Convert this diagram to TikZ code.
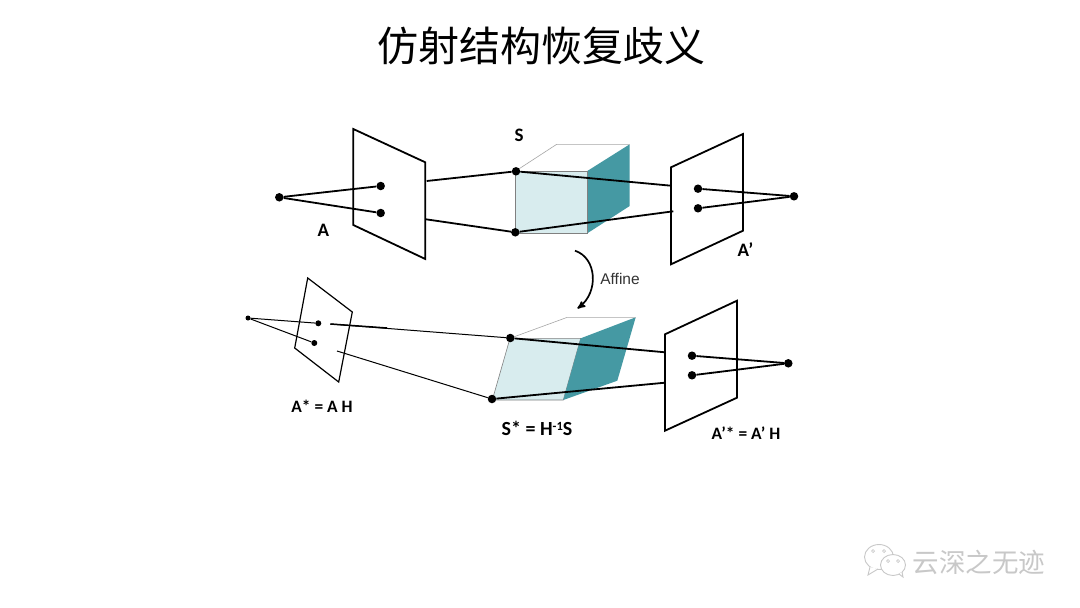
\documentclass[tikz,border=0pt]{standalone}
\usepackage{fontspec}
\usepackage{tikz}
\usetikzlibrary{shapes,arrows,positioning,calc}
\setmainfont{Carlito}
\newfontfamily\cjk{Noto Sans CJK SC}
\newfontfamily\arial{Liberation Sans}
\definecolor{cubefront}{HTML}{D8ECEE}
\definecolor{cubeside}{HTML}{4599A3}
\definecolor{markgray}{HTML}{C8C8C8}
\tikzstyle{pointdot} = [circle, fill=black, inner sep=0pt, minimum size=8.5pt]
\tikzstyle{smalldot} = [circle, fill=black, inner sep=0pt, minimum size=6pt]
\tikzstyle{label} = [font=\bfseries\fontsize{17.4}{19}\selectfont, inner sep=0pt]
\tikzstyle{biglabel} = [font=\bfseries\fontsize{19}{21}\selectfont, inner sep=0pt]
\tikzstyle{plane} = [draw, line width=1.8pt, line join=miter]
\tikzstyle{ray} = [draw, line width=1.8pt]
\tikzstyle{thinplane} = [draw, line width=1.2pt]
\tikzstyle{thinray} = [draw, line width=1pt]
\tikzstyle{edge} = [draw=black!50, line width=0.6pt]
\tikzstyle{bubble} = [draw=markgray, ellipse, fill=white, line width=0.9pt, inner sep=0pt]

\begin{document}
\begin{tikzpicture}[x=1pt, y=-1pt, >=stealth']
    \useasboundingbox[fill=white] (0,0) rectangle (1080,608);
    \node[font=\cjk\fontsize{41}{45}\selectfont, inner sep=0pt] (title) at (541,45.5) {仿射结构恢复歧义};

    % 上方两个相机的像平面
    \coordinate (p1) at (353.3,129);
    \coordinate (p2) at (425.3,162.3);
    \coordinate (p3) at (425.3,259);
    \coordinate (p4) at (353.3,225);
    \draw[plane] (p1) -- (p2) -- (p3) -- (p4) -- cycle;
    \coordinate (q1) at (671,167.3);
    \coordinate (q2) at (743,134);
    \coordinate (q3) at (743,230.7);
    \coordinate (q4) at (671,264.3);
    \draw[plane] (q1) -- (q2) -- (q3) -- (q4) -- cycle;

    % 立方体
    \coordinate (c1) at (515.7,171);
    \coordinate (c2) at (587.3,171);
    \coordinate (c3) at (587.3,233.3);
    \coordinate (c4) at (515.7,233.3);
    \coordinate (c5) at (556.7,144.3);
    \coordinate (c6) at (629.7,144.3);
    \coordinate (c7) at (629.7,206);
    \draw[edge, fill=cubefront] (c1) -- (c2) -- (c3) -- (c4) -- cycle;
    \fill[cubeside] (c2) -- (c6) -- (c7) -- (c3) -- cycle;
    \draw[edge] (c2) -- (c3);
    \draw[edge, black!35] (c1) -- (c5) -- (c6);

    \node[pointdot] (camA) at (279.3,197.3) {};
    \node[pointdot] (a1) at (380.7,186) {};
    \node[pointdot] (a2) at (380.7,213) {};
    \node[pointdot] (s1) at (516,171.3) {};
    \node[pointdot] (s2) at (515.3,232.3) {};
    \node[pointdot] (b1) at (698,188.7) {};
    \node[pointdot] (b2) at (698,208.3) {};
    \node[pointdot] (camB) at (794,196.3) {};
    \coordinate (a1out) at (426.7,181);
    \coordinate (a2out) at (426,219.3);
    \coordinate (b1in) at (671,185.7);
    \coordinate (b2in) at (673.3,211.3);

    % 光线
    \draw[ray] (camA) -- (a1);
    \draw[ray] (camA) -- (a2);
    \draw[ray] (a1out) -- (s1);
    \draw[ray] (a2out) -- (s2);
    \draw[ray] (s1) -- (b1in);
    \draw[ray] (s2) -- (b2in);
    \draw[ray] (b1) -- (camB);
    \draw[ray] (b2) -- (camB);

    \node[biglabel] (lblS) at (519,135) {S};
    \node[biglabel] (lblA) at (323.5,230) {A};
    \node[biglabel] (lblB) at (745.5,250) {A’};

    % 仿射变换箭头
    \coordinate (arcstart) at (575,250.7);
    \coordinate (arcend) at (577.5,308.5);
    \draw[->, line width=1.7pt] (arcstart) .. controls (597,258) and (599,292) .. (arcend);
    \node[font=\arial\fontsize{15.5}{17}\selectfont, inner sep=0pt, text=black!80] (affine) at (620,279) {Affine};

    % 下方：变换后的结构
    \coordinate (r1) at (307.7,278);
    \coordinate (r2) at (352.3,312);
    \coordinate (r3) at (338.7,382);
    \coordinate (r4) at (294.7,348);
    \draw[thinplane] (r1) -- (r2) -- (r3) -- (r4) -- cycle;
    \coordinate (t1) at (665,334.3);
    \coordinate (t2) at (737,300.7);
    \coordinate (t3) at (737,397.7);
    \coordinate (t4) at (665,430.7);
    \draw[plane] (t1) -- (t2) -- (t3) -- (t4) -- cycle;

    \coordinate (d1) at (510,338.3);
    \coordinate (d2) at (580.7,338.3);
    \coordinate (d3) at (563.3,400);
    \coordinate (d4) at (492.3,400);
    \coordinate (d5) at (567.3,317.3);
    \coordinate (d6) at (635.7,317.3);
    \coordinate (d7) at (617.3,380.7);
    \draw[edge, fill=cubefront] (d1) -- (d2) -- (d3) -- (d4) -- cycle;
    \fill[cubeside] (d2) -- (d6) -- (d7) -- (d3) -- cycle;
    \draw[edge, black!35] (d1) -- (d5) -- (d6);

    \node[smalldot, minimum size=5pt] (camC) at (248,318) {};
    \node[smalldot] (e1) at (318.3,323.3) {};
    \node[smalldot] (e2) at (314.3,343) {};
    \node[pointdot] (u1) at (510.3,338) {};
    \node[pointdot] (u2) at (492,399) {};
    \node[pointdot] (f1) at (692,355.7) {};
    \node[pointdot] (f2) at (692,375.3) {};
    \node[pointdot] (camD) at (788.3,363.3) {};
    \coordinate (e1out) at (330.3,324);
    \coordinate (e1mid) at (387,328);
    \coordinate (e2out) at (337,351);
    \coordinate (f1in) at (665,352.3);
    \coordinate (f2in) at (665,382.7);

    \draw[thinray] (camC) -- (e1);
    \draw[thinray] (camC) -- (e2);
    \draw[thinray] (e1out) -- (u1);
    \draw[thinray, line width=1.5pt] (e1out) -- (e1mid);
    \draw[thinray] (e2out) -- (u2);
    \draw[ray] (u1) -- (f1in);
    \draw[ray] (u2) -- (f2in);
    \draw[ray] (f1) -- (camD);
    \draw[ray] (f2) -- (camD);

    \node[label] (lblAs) at (322,406) {A* = A H};
    \node[label, font=\bfseries\fontsize{20}{21}\selectfont] (lblSs) at (537,428) {S* = H\raisebox{4.5pt}{\fontsize{12.5}{13}\selectfont -1}S};
    \node[label] (lblBs) at (746,433) {A’* = A’ H};

    % 右下角水印
    \node[bubble, minimum width=29pt, minimum height=25pt] (bubble1) at (879,557) {};
    \draw[markgray, line width=0.9pt, fill=white] (870,567) -- (868,575) -- (878,569);
    \node[bubble, minimum width=25pt, minimum height=21pt] (bubble2) at (893,565) {};
    \draw[markgray, line width=0.9pt, fill=white] (899,574) -- (903,577) -- (902,572);
    \foreach \ex/\ey in {873/551, 884/551, 888/561, 898/561}
        \draw[markgray, line width=0.7pt] (\ex,\ey) circle (1.5pt);
    \node[font=\cjk\fontsize{26.5}{28}\selectfont, inner sep=0pt, text=markgray] (mark) at (979,562) {云深之无迹};
\end{tikzpicture}
\end{document}
